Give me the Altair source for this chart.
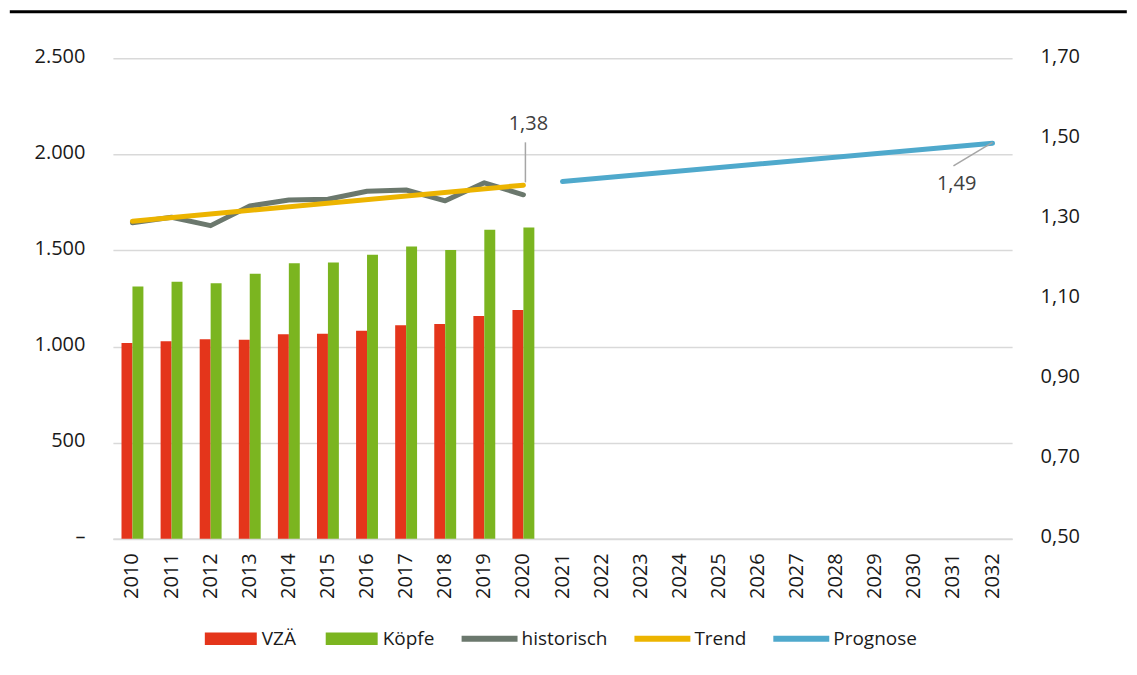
import altair as alt
import pandas as pd

# ---------------- data ----------------
years = ["2010", "2011", "2012", "2013", "2014", "2015", "2016", "2017",
         "2018", "2019", "2020", "2021", "2022", "2023", "2024", "2025",
         "2026", "2027", "2028", "2029", "2030", "2031", "2032"]
hist_years = ["2010", "2011", "2012", "2013", "2014", "2015", "2016",
              "2017", "2018", "2019", "2020"]
vza = [1019, 1028, 1038, 1036, 1064, 1067, 1083, 1111, 1117, 1159, 1190]
koepfe = [1313, 1337, 1329, 1379, 1433, 1438, 1478, 1521, 1502, 1608, 1620]
historisch = [1.289, 1.303, 1.282, 1.331, 1.346, 1.348, 1.368, 1.371,
              1.344, 1.389, 1.359]
trend_years = ["2010", "2020"]
trend_vals = [1.293, 1.383]
prog_years = ["2021", "2032"]
prog_vals = [1.392, 1.488]

left_ticks = [0, 500, 1000, 1500, 2000, 2500]
right_ticks = [0.5, 0.7, 0.9, 1.1, 1.3, 1.5, 1.7]

bar_series = ["VZÄ", "Köpfe"]
bar_colors = ["#e4351b", "#7bb520"]
line_series = ["historisch", "Trend", "Prognose"]
line_colors = ["#6b786d", "#ecb400", "#4fa9cc"]

# annotations: labels and leader lines
label_years = ["2020", "2032"]
label_vals = [1.38, 1.49]
label_texts = ["1,38", "1,49"]
leader1_year = ["2020"]
leader1_from = [1.39]
leader1_to = [1.49]
leader2_years = ["2031", "2032"]
leader2_vals = [1.431, 1.49]

FONT = "Open Sans"
TEXT = "#1a1a1a"
GRID = "#d9d9d9"
W, H = 900, 481

bars_df = pd.DataFrame({
    "Jahr": hist_years + hist_years,
    "Reihe": [bar_series[0]] * len(vza) + [bar_series[1]] * len(koepfe),
    "Wert": vza + koepfe,
})
lines_df = pd.DataFrame({
    "Jahr": hist_years + trend_years + prog_years,
    "Reihe": [line_series[0]] * len(historisch) + [line_series[1]] * len(trend_vals)
             + [line_series[2]] * len(prog_vals),
    "Wert": historisch + trend_vals + prog_vals,
})

x_scale = alt.Scale(domain=years, paddingInner=0.44, paddingOuter=0.22)
x_axis = alt.Axis(title=None, labelAngle=270, labelPadding=14, ticks=False, tickSize=0,
                  domain=True, domainColor=GRID, domainWidth=1.7, grid=False,
                  labelFont=FONT, labelFontSize=20, labelColor=TEXT)
x_enc = alt.X("Jahr:N", scale=x_scale, sort=years, axis=x_axis)

left_axis = alt.Axis(title=None, orient="left", values=left_ticks, grid=True,
                     gridColor=GRID, gridWidth=1.5, domain=False, ticks=False, tickSize=0,
                     labelPadding=28, labelOffset=-2, labelFont=FONT, labelFontSize=20,
                     labelColor=TEXT,
                     labelExpr="datum.value == 0 ? '–\u00a0\u00a0' : replace(format(datum.value, ','), ',', '.')")
right_axis = alt.Axis(title=None, orient="right", values=right_ticks, grid=False,
                      domain=False, ticks=False, tickSize=0, labelPadding=28, labelOffset=-2,
                      labelFont=FONT, labelFontSize=20, labelColor=TEXT,
                      labelExpr="replace(format(datum.value, '.2f'), '.', ',')")
y_right = alt.Scale(domain=[0.5, 1.7], nice=False, zero=False)

fill_legend = alt.Legend(title=None, orient="none", legendX=92, legendY=555,
                         direction="horizontal", symbolType="M-1,-0.24H1V0.24H-1Z",
                         symbolSize=2704, symbolStrokeWidth=0, labelFont=FONT,
                         labelFontSize=19, labelColor=TEXT, labelOffset=5,
                         columnPadding=29, padding=0)
stroke_legend = alt.Legend(title=None, orient="none", legendX=346, legendY=550,
                           direction="horizontal", symbolType="stroke",
                           symbolSize=3136, symbolStrokeWidth=6, labelFont=FONT,
                           labelFontSize=19, labelColor=TEXT, labelOffset=1,
                           columnPadding=14, padding=0)

bars = alt.Chart(bars_df).mark_bar().encode(
    x=x_enc,
    xOffset=alt.XOffset("Reihe:N", sort=bar_series,
                        scale=alt.Scale(domain=bar_series, paddingInner=0, paddingOuter=0)),
    y=alt.Y("Wert:Q", scale=alt.Scale(domain=[0, 2500], nice=False), axis=left_axis),
    fill=alt.Fill("Reihe:N", sort=bar_series,
                  scale=alt.Scale(domain=bar_series, range=bar_colors), legend=fill_legend),
)


def line_layer(name):
    return alt.Chart(lines_df).transform_filter(alt.datum.Reihe == name).mark_line(
        strokeWidth=5, strokeCap="round", strokeJoin="round"
    ).encode(
        x=x_enc,
        y=alt.Y("Wert:Q", scale=y_right, axis=right_axis),
        stroke=alt.Stroke("Reihe:N", sort=line_series,
                          scale=alt.Scale(domain=line_series, range=line_colors),
                          legend=stroke_legend),
    )


lab_df = pd.DataFrame({"Jahr": label_years, "Wert": label_vals, "Text": label_texts})
lab1 = alt.Chart(lab_df.iloc[[0]]).mark_text(
    font=FONT, fontSize=20, color="#404040", dx=5, dy=-62
).encode(x=alt.X("Jahr:N", scale=x_scale, sort=years, axis=x_axis),
         y=alt.Y("Wert:Q", scale=y_right, axis=right_axis), text="Text:N")
lab2 = alt.Chart(lab_df.iloc[[1]]).mark_text(
    font=FONT, fontSize=20, color="#404040", dx=-36, dy=42
).encode(x=alt.X("Jahr:N", scale=x_scale, sort=years, axis=x_axis),
         y=alt.Y("Wert:Q", scale=y_right, axis=right_axis), text="Text:N")

lead1 = alt.Chart(pd.DataFrame({"Jahr": leader1_year, "Von": leader1_from,
                                "Bis": leader1_to})).mark_rule(
    color="#a6a6a6", strokeWidth=1.5, xOffset=2
).encode(x=alt.X("Jahr:N", scale=x_scale, sort=years, axis=x_axis),
         y=alt.Y("Von:Q", scale=y_right, axis=right_axis), y2="Bis:Q")
lead2 = alt.Chart(pd.DataFrame({"Jahr": leader2_years, "Wert": leader2_vals})).mark_line(
    color="#a6a6a6", strokeWidth=1.5
).encode(x=alt.X("Jahr:N", scale=x_scale, sort=years, axis=x_axis),
         y=alt.Y("Wert:Q", scale=y_right, axis=right_axis))

right_layer = alt.layer(line_layer("historisch"), line_layer("Trend"),
                        line_layer("Prognose"), lead1, lead2, lab1, lab2)

top_rule = alt.Chart(pd.DataFrame({"a": [0]})).mark_rule(
    color="#000000", strokeWidth=3
).encode(x=alt.value(-103.2), x2=alt.value(1014.8), y=alt.value(-46.5))

chart = alt.layer(bars, right_layer, top_rule).resolve_scale(
    y="independent", fill="independent", stroke="independent"
).properties(
    width=W, height=H, background="#ffffff",
    padding={"left": 0, "top": 2, "right": 0, "bottom": 0},
).configure_view(stroke=None)

chart.save("out.html", embed_options={"renderer": "svg", "actions": False})
